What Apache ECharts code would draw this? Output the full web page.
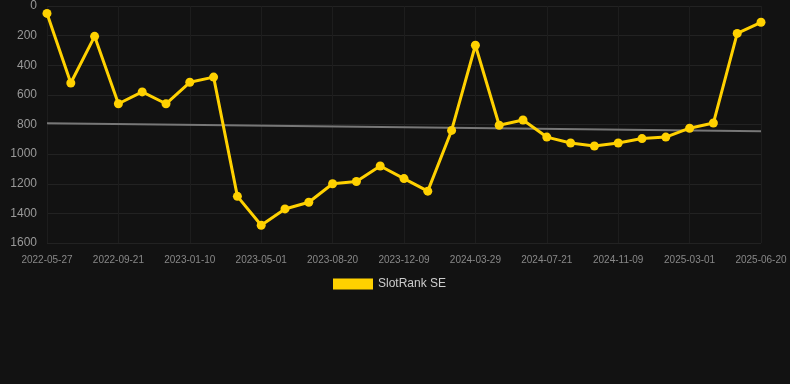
<!DOCTYPE html>
<html><head><meta charset="utf-8">
<script src="https://cdn.jsdelivr.net/npm/echarts@6/dist/echarts.min.js"></script>
<style>html,body{margin:0;padding:0;background:#121212;}#c{width:790px;height:384px;}</style>
</head><body><div id="c"></div>
<script>
var dates = ["2022-05-27","2022-07-05","2022-08-13","2022-09-21","2022-10-28","2022-12-04","2023-01-10","2023-02-16","2023-03-25","2023-05-01","2023-06-07","2023-07-14","2023-08-20","2023-09-26","2023-11-02","2023-12-09","2024-01-15","2024-02-21","2024-03-29","2024-05-06","2024-06-13","2024-07-21","2024-08-27","2024-10-03","2024-11-09","2024-12-16","2025-01-22","2025-03-01","2025-04-08","2025-05-14","2025-06-20"];
var rankValues = [50,520,205,660,580,660,515,480,1285,1480,1370,1325,1200,1185,1080,1165,1250,840,265,805,770,885,925,945,925,895,885,825,790,185,110];
var trendValues = [792,null,null,null,null,null,null,null,null,null,null,null,null,null,null,null,null,null,null,null,null,null,null,null,null,null,null,null,null,null,845];
var yTicks = {min:0, max:1600, interval:200};
var chart = echarts.init(document.getElementById('c'));
chart.setOption({
  backgroundColor:'#121212',
  animation:false,
  grid:{left:47,right:29,top:6,bottom:141},
  legend:{data:['SlotRank SE'],top:273,left:328,itemWidth:40,itemHeight:11,icon:'rect',itemGap:10,
    textStyle:{color:'#cccccc',fontSize:12,fontFamily:'Liberation Sans, Arial'}},
  xAxis:{type:'category',data:dates,boundaryGap:false,
    axisLine:{show:false},axisTick:{show:false},
    axisLabel:{interval:2,color:'#888',fontSize:10,margin:12,fontFamily:'Liberation Sans, Arial'},
    splitLine:{show:true,interval:2,lineStyle:{color:'#1d1d1d',width:1}}},
  yAxis:{type:'value',inverse:true,min:yTicks.min,max:yTicks.max,interval:yTicks.interval,
    axisLine:{show:false},axisTick:{show:false},
    axisLabel:{color:'#999',fontSize:12,margin:10,fontFamily:'Liberation Sans, Arial',formatter:function(v){return String(v);}},
    splitLine:{lineStyle:{color:'#222',width:1}}},
  series:[
    {name:'SlotRank SE',type:'line',data:rankValues,color:'#FFD100',
     symbol:'circle',symbolSize:9,lineStyle:{width:3,color:'#FFD100'},itemStyle:{color:'#FFD100'},z:3},
    {name:'trend',type:'line',data:trendValues,connectNulls:true,symbol:'none',
     lineStyle:{width:2,color:'#777'},itemStyle:{color:'#777'},z:2}
  ]
});
</script></body></html>
